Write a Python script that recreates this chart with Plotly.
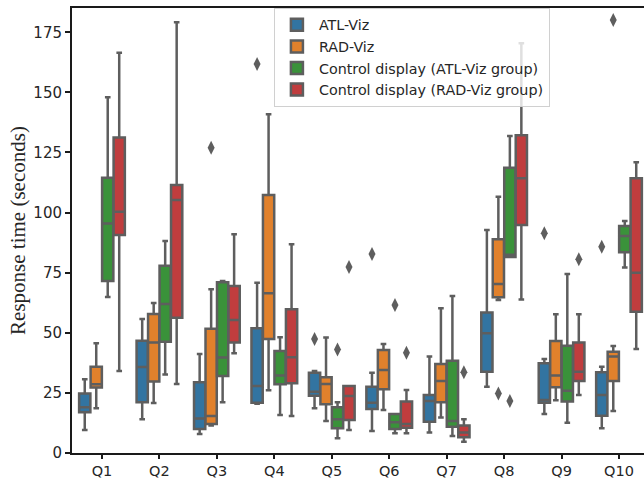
import plotly.graph_objects as go

questions = ["Q1", "Q2", "Q3", "Q4", "Q5", "Q6", "Q7", "Q8", "Q9", "Q10"]
groups = ["ATL-Viz", "RAD-Viz", "Control display (ATL-Viz group)", "Control display (RAD-Viz group)"]
colors = ["#3274a1", "#e1812c", "#3a923a", "#c03d3e"]

# Box statistics, per group, per question
atl_lo  = [9.6, 14.0, 7.9, 20.5, 18.6, 9.2, 8.5, 27.6, 16.2, 10.3]
atl_q1  = [16.9, 21.1, 10.0, 20.9, 23.8, 18.3, 13.0, 33.8, 20.9, 15.5]
atl_med = [19.0, 35.8, 14.4, 27.9, 25.5, 20.9, 21.6, 49.8, 22.0, 24.1]
atl_q3  = [24.8, 46.7, 29.4, 51.9, 33.4, 27.6, 24.1, 58.4, 37.3, 33.6]
atl_hi  = [30.7, 55.7, 41.2, 70.8, 34.1, 33.4, 40.1, 92.8, 39.1, 35.9]

rad_lo  = [18.6, 20.8, 11.4, 26.1, 13.3, 17.9, 14.8, 63.6, 21.9, 17.5]
rad_q1  = [27.2, 29.7, 12.1, 47.4, 20.3, 26.5, 21.1, 64.8, 27.3, 30.0]
rad_med = [28.6, 46.0, 15.4, 66.5, 28.7, 34.5, 30.0, 70.3, 32.2, 40.1]
rad_q3  = [35.9, 57.8, 51.7, 107.3, 31.5, 42.8, 37.0, 88.9, 46.6, 42.1]
rad_hi  = [45.6, 62.4, 68.1, 140.9, 48.0, 45.3, 60.2, 106.6, 57.7, 44.5]

ca_lo  = [64.9, 32.7, 21.1, 15.8, 6.1, 8.2, 7.1, 81.5, 12.6, 77.2]
ca_q1  = [71.5, 46.3, 32.0, 28.6, 10.3, 10.0, 10.9, 81.5, 21.4, 83.5]
ca_med = [95.5, 62.0, 39.7, 32.2, 14.0, 12.8, 13.3, 82.5, 25.9, 90.3]
ca_q3  = [114.5, 77.9, 71.0, 42.4, 19.0, 16.2, 38.4, 118.7, 44.6, 94.4]
ca_hi  = [148.0, 88.2, 71.5, 48.1, 21.1, 16.2, 65.3, 131.9, 74.5, 96.5]

cr_lo  = [34.1, 28.7, 41.5, 15.4, 9.6, 8.2, 4.7, 63.9, 24.1, 43.3]
cr_q1  = [90.7, 56.3, 46.0, 29.0, 13.7, 10.5, 6.5, 94.8, 30.0, 58.8]
cr_med = [100.4, 105.2, 55.3, 39.8, 23.7, 12.1, 8.5, 114.3, 33.8, 75.0]
cr_q3  = [131.2, 111.5, 69.5, 59.8, 27.9, 21.4, 11.4, 132.2, 46.0, 114.3]
cr_hi  = [166.5, 179.2, 91.0, 86.8, 27.9, 26.2, 14.0, 170.4, 57.7, 120.9]

# Outliers: (question index, value) per group
atl_out = [(3, 161.8), (4, 47.4), (5, 82.8), (8, 91.4), (9, 85.8)]
rad_out = [(2, 127.0), (7, 24.8), (9, 180.1)]
ca_out  = [(4, 43.1), (5, 61.6), (7, 21.6)]
cr_out  = [(4, 77.4), (5, 41.7), (6, 33.6), (8, 80.6)]

stats = [
    (atl_lo, atl_q1, atl_med, atl_q3, atl_hi, atl_out),
    (rad_lo, rad_q1, rad_med, rad_q3, rad_hi, rad_out),
    (ca_lo, ca_q1, ca_med, ca_q3, ca_hi, ca_out),
    (cr_lo, cr_q1, cr_med, cr_q3, cr_hi, cr_out),
]

line_col = "#5e5e5e"
offsets = [-0.3, -0.1, 0.1, 0.3]
box_w = 0.2 * 0.98

fig = go.Figure()
for g, (name, col, st, off) in enumerate(zip(groups, colors, stats, offsets)):
    lo, q1, med, q3, hi, outs = st
    xs = [i + off for i in range(len(questions))]
    fig.add_trace(go.Box(
        x=xs, lowerfence=lo, q1=q1, median=med, q3=q3, upperfence=hi,
        name=name, width=box_w, fillcolor=col,
        line=dict(color=line_col, width=2.5), whiskerwidth=0.5,
        boxpoints=False, showlegend=True, hoverinfo="skip",
    ))
    fig.add_trace(go.Scatter(
        x=[o[0] + off for o in outs], y=[o[1] for o in outs], mode="markers",
        marker=dict(symbol="diamond-tall", size=10, color=line_col, line=dict(width=0)),
        showlegend=False, hoverinfo="skip",
    ))

fig.update_layout(
    width=644, height=480,
    margin=dict(l=72, r=0, t=8, b=27),
    plot_bgcolor="white", paper_bgcolor="white",
    boxmode="overlay",
    font=dict(family="DejaVu Sans", size=15, color="#262626"),
    legend=dict(
        x=0.353, y=1.0, xanchor="left", yanchor="top",
        bgcolor="rgba(255,255,255,0.8)", bordercolor="#d0d0d0", borderwidth=1,
        font=dict(family="DejaVu Sans", size=14.3, color="#262626"),
        itemwidth=34, tracegroupgap=0,
    ),
    xaxis=dict(
        range=[-0.522, 9.435], tickmode="array", tickvals=list(range(len(questions))),
        ticktext=questions, showgrid=False, zeroline=False,
        showline=True, linecolor="#1a1a1a", linewidth=2, mirror=True,
        ticks="outside", ticklen=4, tickwidth=1.5, tickcolor="#1a1a1a",
        tickfont=dict(size=14.5), automargin=True,
    ),
    yaxis=dict(
        range=[0, 185.1], tickvals=[0, 25, 50, 75, 100, 125, 150, 175],
        showgrid=False, zeroline=False,
        showline=True, linecolor="#1a1a1a", linewidth=2,
        ticks="outside", ticklen=5, tickwidth=1.5, tickcolor="#1a1a1a",
        tickfont=dict(size=15),
        title=dict(text="Response time (seconds)",
                   font=dict(family="Liberation Serif", size=21, color="#262626"),
                   standoff=2),
    ),
)

fig.write_html("out.html")
